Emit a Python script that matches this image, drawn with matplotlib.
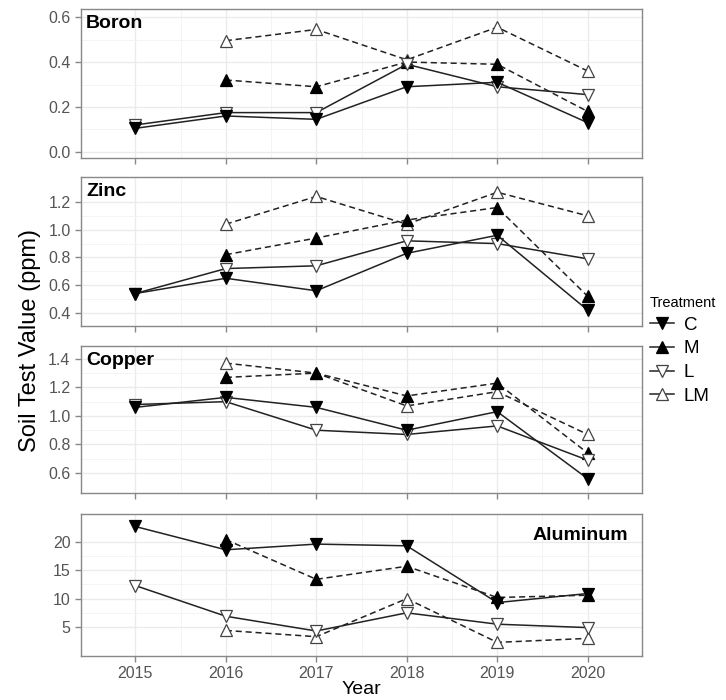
import matplotlib.pyplot as plt
from matplotlib.lines import Line2D
import numpy as np

plt.rcParams["font.family"] = ["Liberation Sans", "DejaVu Sans"]

# ----------------------------------------------------
# Data
# ----------------------------------------------------
years = [2015, 2016, 2017, 2018, 2019, 2020]
nutrients = ["Boron", "Zinc", "Copper", "Aluminum"]
treatments = ["C", "M", "L", "LM"]

boron = {
    "C": [0.105, 0.16, 0.145, 0.29, 0.31, 0.13],
    "M": [None, 0.32, 0.29, 0.40, 0.39, 0.18],
    "L": [0.12, 0.175, 0.175, 0.39, 0.29, 0.255],
    "LM": [None, 0.495, 0.545, 0.41, 0.555, 0.36],
}
zinc = {
    "C": [0.54, 0.65, 0.56, 0.83, 0.96, 0.42],
    "M": [None, 0.82, 0.94, 1.07, 1.16, 0.52],
    "L": [0.54, 0.72, 0.74, 0.92, 0.90, 0.79],
    "LM": [None, 1.04, 1.24, 1.04, 1.27, 1.10],
}
copper = {
    "C": [1.06, 1.13, 1.06, 0.90, 1.03, 0.56],
    "M": [None, 1.27, 1.30, 1.14, 1.23, 0.74],
    "L": [1.08, 1.10, 0.90, 0.87, 0.93, 0.69],
    "LM": [None, 1.37, 1.30, 1.07, 1.17, 0.87],
}
aluminum = {
    "C": [22.7, 18.6, 19.6, 19.3, 9.3, 10.9],
    "M": [None, 20.4, 13.4, 15.7, 10.2, 10.6],
    "L": [12.3, 6.9, 4.3, 7.5, 5.5, 4.9],
    "LM": [None, 4.4, 3.3, 10.0, 2.3, 3.0],
}
panel_data = [boron, zinc, copper, aluminum]

yticks = [[0.0, 0.2, 0.4, 0.6], [0.4, 0.6, 0.8, 1.0, 1.2],
          [0.6, 0.8, 1.0, 1.2, 1.4], [5, 10, 15, 20]]
ylims = [(-0.027, 0.636), (0.306, 1.38), (0.46, 1.49), (-0.1, 24.9)]

# ----------------------------------------------------
# Styles
# ----------------------------------------------------
style = {
    "C": dict(marker="v", mfc="black", mec="black", ls="-"),
    "M": dict(marker="^", mfc="black", mec="black", ls="--"),
    "L": dict(marker="v", mfc="white", mec="#444444", ls="-"),
    "LM": dict(marker="^", mfc="white", mec="#444444", ls="--"),
}
draw_order = ["LM", "M", "L", "C"]

fig = plt.figure(figsize=(7.26, 7.0), dpi=100)
W, H = 726, 700
left_px, right_px = 81, 642
panels_px = [(9, 158), (177, 326), (346, 493), (514, 656)]

axes = []
for i, (top, bot) in enumerate(panels_px):
    ax = fig.add_axes([left_px / W, 1 - bot / H, (right_px - left_px) / W, (bot - top) / H])
    axes.append(ax)
    data = panel_data[i]
    for t in draw_order:
        vals = np.array([np.nan if v is None else v for v in data[t]], dtype=float)
        s = style[t]
        ax.plot(years, vals, color="#222222", lw=1.1, ls=s["ls"], dashes=(4, 2.5) if s["ls"] == "--" else (None, None),
                marker=s["marker"], ms=8.5, mfc=s["mfc"], mec=s["mec"], mew=0.9, zorder=3)

    ax.set_xlim(2014.4, 2020.6)
    ax.set_ylim(*ylims[i])
    ax.set_xticks(years)
    ax.set_yticks(yticks[i])
    minors = [(a + b) / 2 for a, b in zip(yticks[i][:-1], yticks[i][1:])]
    ax.set_yticks(minors, minor=True)
    ax.set_xticks([y + 0.5 for y in years[:-1]], minor=True)
    ax.grid(True, which="major", color="#EBEBEB", lw=1.0, zorder=0)
    ax.grid(True, which="minor", color="#F3F3F3", lw=0.6, zorder=0)
    ax.set_axisbelow(True)
    if i < 3:
        ax.yaxis.set_major_formatter(plt.FuncFormatter(lambda v, p: f"{v:.1f}"))
    for sp in ax.spines.values():
        sp.set_color("#888888")
        sp.set_linewidth(1.0)
    ax.tick_params(axis="both", which="major", colors="#888888", labelcolor="#555555",
                   labelsize=11.5, length=4, width=1)
    ax.tick_params(axis="both", which="minor", length=0)
    if i < 3:
        ax.tick_params(axis="x", labelbottom=False)

    if nutrients[i] == "Aluminum":
        ax.text(0.975, 0.85, nutrients[i], transform=ax.transAxes, ha="right", va="center",
                fontsize=14, fontweight="bold")
    else:
        ax.text(0.009, 0.9, nutrients[i], transform=ax.transAxes, ha="left", va="center",
                fontsize=14, fontweight="bold")

axes[-1].set_xlabel("Year", fontsize=14, labelpad=0)
fig.text(30 / W, 1 - 340 / H, "Soil Test Value (ppm)", rotation=90, ha="center", va="center", fontsize=17)

# ----------------------------------------------------
# Legend
# ----------------------------------------------------
handles = []
for t in treatments:
    s = style[t]
    handles.append(Line2D([0], [0], color="#222222", lw=1.1, ls="-",
                          marker=s["marker"], ms=8, mfc=s["mfc"], mec=s["mec"], mew=0.9))
fig.legend(handles, treatments, title="Treatment", loc="upper left",
           bbox_to_anchor=(650 / W, 1 - 296 / H), frameon=False, fontsize=13.5,
           title_fontsize=10.5, handlelength=1.3, handletextpad=0.5, labelspacing=0.35,
           alignment="left", borderaxespad=0, borderpad=0)

fig.savefig("out.png", dpi=100)
